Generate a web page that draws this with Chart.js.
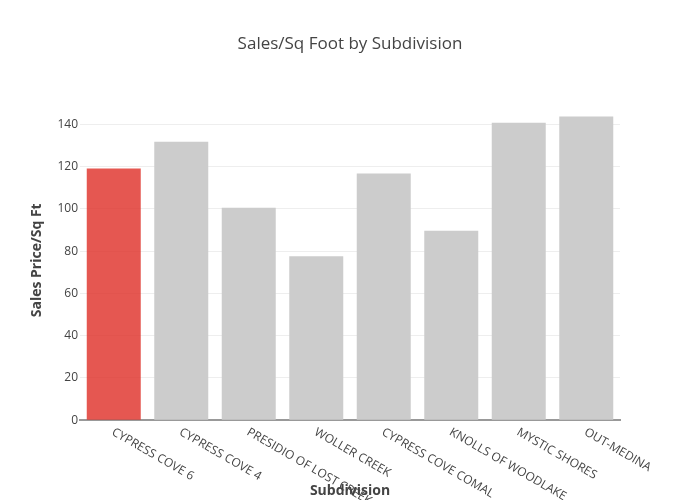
<!DOCTYPE html>
<html>
<head>
<meta charset="utf-8">
<script src="https://cdn.jsdelivr.net/npm/chart.js@4"></script>
<style>
  html, body { margin: 0; padding: 0; background: #fff; }
  #wrap { width: 700px; height: 500px; }
</style>
</head>
<body>
<div id="wrap"><canvas id="c" width="700" height="500"></canvas></div>
<script>
const categories = ["CYPRESS COVE 6", "CYPRESS COVE 4", "PRESIDIO OF LOST CREEK", "WOLLER CREEK", "CYPRESS COVE COMAL", "KNOLLS OF WOODLAKE", "MYSTIC SHORES", "OUT-MEDINA"];
const salesPerSqFt = [119.2, 131.8, 100.6, 77.6, 116.8, 89.7, 140.8, 143.8];
const barColors = ["rgba(222,45,38,0.8)", "rgba(204,204,204,1)", "rgba(204,204,204,1)", "rgba(204,204,204,1)", "rgba(204,204,204,1)", "rgba(204,204,204,1)", "rgba(204,204,204,1)", "rgba(204,204,204,1)"];
const yTickStep = 20;
const yMax = 151.4;

const FONT = '"Open Sans", "Liberation Sans", sans-serif';

const rotatedLabels = {
  id: 'rotatedLabels',
  afterDraw(chart) {
    const xs = chart.scales.x;
    const ctx = chart.ctx;
    ctx.save();
    ctx.font = '12px ' + FONT;
    ctx.fillStyle = '#444';
    ctx.textAlign = 'left';
    ctx.textBaseline = 'middle';
    categories.forEach((lab, i) => {
      const px = xs.getPixelForValue(i);
      ctx.save();
      ctx.translate(px - 1, xs.top + 11);
      ctx.rotate(Math.PI / 6);
      ctx.fillText(lab, 0, 0);
      ctx.restore();
    });
    ctx.restore();
  }
};

new Chart(document.getElementById('c'), {
  type: 'bar',
  data: {
    labels: categories,
    datasets: [{
      data: salesPerSqFt,
      backgroundColor: barColors,
      borderWidth: 0,
      categoryPercentage: 1.0,
      barPercentage: 0.8
    }]
  },
  options: {
    responsive: false,
    animation: false,
    layout: { padding: 0 },
    plugins: {
      legend: { display: false },
      tooltip: { enabled: false },
      title: {
        display: true,
        text: 'Sales/Sq Foot by Subdivision',
        color: '#444',
        font: { family: FONT, size: 17, weight: 'normal' },
        padding: { top: 34, bottom: 46 }
      }
    },
    scales: {
      x: {
        offset: true,
        grid: { display: false, drawTicks: false },
        border: { display: true, color: '#999', width: 2 },
        ticks: { display: false },
        title: {
          display: true,
          text: 'Subdivision',
          color: '#444',
          font: { family: FONT, size: 14, weight: 'bold' },
          padding: { top: 62, bottom: 1 }
        }
      },
      y: {
        min: 0,
        max: yMax,
        afterFit(scale) { scale.width = 80; },
        grid: { color: '#eee', lineWidth: 1, drawTicks: false },
        border: { display: false },
        ticks: {
          stepSize: yTickStep,
          includeBounds: false,
          color: '#444',
          padding: 2,
          font: { family: FONT, size: 12 }
        },
        title: {
          display: true,
          text: 'Sales Price/Sq Ft',
          color: '#444',
          font: { family: FONT, size: 14, weight: 'bold' },
          padding: { top: 29, bottom: 0 }
        }
      },
      yRight: {
        position: 'right',
        display: true,
        afterFit(scale) { scale.width = 80; },
        grid: { display: false, drawTicks: false },
        border: { display: false },
        ticks: { display: false }
      }
    }
  },
  plugins: [rotatedLabels]
});
</script>
</body>
</html>
